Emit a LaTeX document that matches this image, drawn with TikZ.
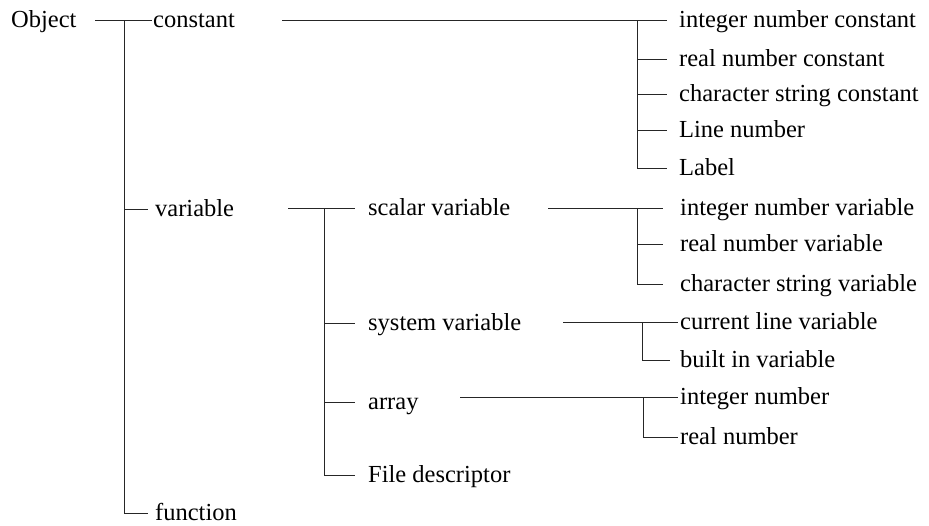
\documentclass[tikz,border=0pt]{standalone}
\usepackage{fontspec}
\setmainfont{Liberation Serif}
\begin{document}
\begin{tikzpicture}[x=1pt,y=-1pt,
  lbl/.style={anchor=west,inner sep=0pt,text height=17pt,text depth=3pt,font=\fontsize{24.5}{28}\selectfont},
  conn/.style={line width=0.9pt,black!85}]
\useasboundingbox (0,0) rectangle (929,525);
% level 0 and 1
\node[lbl] (obj) at (11,20) {Object};
\node[lbl] (const) at (153,20) {constant};
\node[lbl] (var) at (155,209) {variable};
\node[lbl] (func) at (155,513) {function};
\coordinate (oj) at (124,20);
\draw[conn] (95,20) -- ([xshift=-1pt]const.west);
\draw[conn] (oj) |- ([xshift=-7pt]var.west);
\draw[conn] (oj) |- ([xshift=-7pt]func.west);
% constants
\node[lbl] (ic) at (679,20) {integer number constant};
\node[lbl] (rc) at (679,59) {real number constant};
\node[lbl] (cc) at (679,94) {character string constant};
\node[lbl] (ln) at (679,130) {Line number};
\node[lbl] (lb) at (679,168) {Label};
\coordinate (cs) at (282,20);
\coordinate (cj) at (637,20);
\draw[conn] (cs) -- ([xshift=-12pt]ic.west);
\foreach \n in {rc,cc,ln,lb} \draw[conn] (cj) |- ([xshift=-12pt]\n.west);
% variable
\node[lbl] (sv) at (368,208) {scalar variable};
\node[lbl] (sy) at (368,323) {system variable};
\node[lbl] (ar) at (368,402) {array};
\node[lbl] (fd) at (368,475) {File descriptor};
\coordinate (vs) at (288,208);
\coordinate (vj) at (324,208);
\draw[conn] (vs) -- ([xshift=-13pt]sv.west);
\foreach \n in {sy,ar,fd} \draw[conn] (vj) |- ([xshift=-13pt]\n.west);
% scalar variable
\node[lbl] (iv) at (680,208) {integer number variable};
\node[lbl] (rv) at (680,244) {real number variable};
\node[lbl] (cv) at (680,284) {character string variable};
\coordinate (ss) at (548,208);
\coordinate (sj) at (637,208);
\draw[conn] (ss) -- ([xshift=-17pt]iv.west);
\foreach \n in {rv,cv} \draw[conn] (sj) |- ([xshift=-17pt]\n.west);
% system variable
\node[lbl] (cl) at (680,322) {current line variable};
\node[lbl] (bi) at (680,360) {built in variable};
\coordinate (ys) at (563,322);
\coordinate (yj) at (642,322);
\draw[conn] (ys) -- ([xshift=-2pt]cl.west);
\draw[conn] (yj) |- ([xshift=-10pt]bi.west);
% array
\node[lbl] (in) at (680,397) {integer number};
\node[lbl] (rn) at (680,437) {real number};
\coordinate (as) at (460,397);
\coordinate (aj) at (643,397);
\draw[conn] (as) -- ([xshift=-2pt]in.west);
\draw[conn] (aj) |- ([xshift=-2pt]rn.west);
\end{tikzpicture}
\end{document}
